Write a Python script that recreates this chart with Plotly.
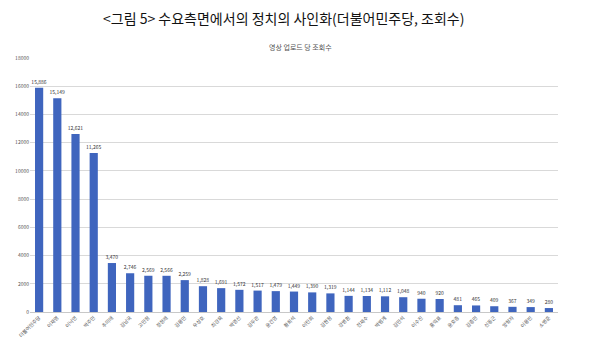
import plotly.graph_objects as go

names = ["더불어민주당", "이재명", "이낙연", "박주민", "추미애", "김남국", "고민정", "정청래",
         "김용민", "우상호", "최강욱", "박영선", "김두관", "윤건영", "황희석", "이탄희",
         "김한정", "강병원", "전재수", "박범계", "김민석", "이수진", "홍익표", "윤호중",
         "김종민", "신동근", "양향자", "이용빈", "소병훈"]
views = [15886, 15149, 12621, 11265, 3470, 2746, 2569, 2566, 2259, 1828,
         1691, 1572, 1517, 1479, 1449, 1390, 1319, 1144, 1134, 1112,
         1048, 940, 920, 481, 465, 409, 367, 349, 280]
y_ticks = list(range(0, 18001, 2000))

FONT = "Noto Sans CJK KR"

W, H = 594, 351
ML, MR, MT, MB = 30, 36, 58, 35
PW, PH = W - ML - MR, H - MT - MB


def px_to_plot(x, y_top):
    """Convert figure pixel coords (from top-left) to plot-area paper coords."""
    return (x - ML) / PW, (H - y_top - MB) / PH


fig = go.Figure(go.Bar(
    x=names, y=views,
    marker=dict(color="#3F65BE", line=dict(width=0)),
    text=[f"{v:,}" for v in views],
    textposition="outside",
    constraintext="none",
    textfont=dict(size=5, color="#333333", family=FONT),
    cliponaxis=False,
))

tx, ty = px_to_plot(283, 17)
sx, sy = px_to_plot(300, 47)

fig.update_layout(
    width=W, height=H,
    margin=dict(l=ML, r=MR, t=MT, b=MB),
    paper_bgcolor="white", plot_bgcolor="white",
    bargap=0.55,
    showlegend=False,
    font=dict(family=FONT),
    xaxis=dict(
        tickangle=-45, tickfont=dict(size=5, color="#555555"),
        showline=True, linecolor="#c8c8c8", linewidth=1,
        showgrid=False, ticks="",
    ),
    yaxis=dict(
        range=[0, 18000], tickvals=y_ticks, tickformat="d",
        tickfont=dict(size=5, color="#555555"),
        showgrid=True, gridcolor="#d9d9d9", gridwidth=1,
        zeroline=False, showline=False, ticks="",
    ),
    annotations=[
        dict(text="<그림 5> 수요측면에서의 정치의 사인화(더불어민주당, 조회수)",
             x=tx, y=ty, xref="paper", yref="paper", showarrow=False,
             xanchor="center", yanchor="middle",
             font=dict(size=14, color="#111111", family=FONT)),
        dict(text="영상 업로드 당 조회수", x=sx, y=sy,
             xref="paper", yref="paper", showarrow=False,
             xanchor="center", yanchor="middle",
             font=dict(size=7, color="#555555", family=FONT)),
    ],
)

fig.write_html("out.html")
